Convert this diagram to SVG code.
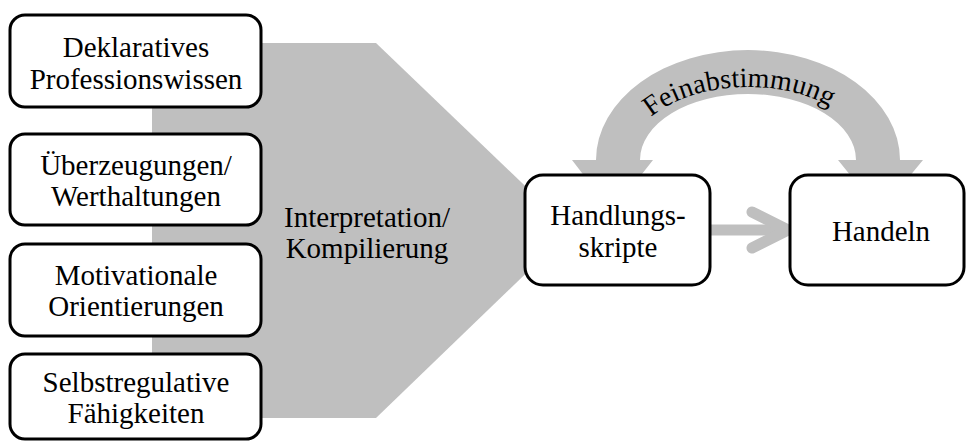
<svg xmlns="http://www.w3.org/2000/svg" width="966" height="442" viewBox="0 0 966 442">
  <defs>
    <style>
      .box { fill: #ffffff; stroke: #000000; stroke-width: 3; }
      .lbl { font-family: "Liberation Serif", "Times New Roman", serif; font-size: 29px; fill: #000000; text-anchor: middle; }
      .gray { fill: #bfbfbf; }
      .line { fill: none; stroke: #bfbfbf; stroke-width: 11; stroke-linecap: round; stroke-linejoin: round; }
    </style>
    <path id="arcText" d="M628,160 A120,73 0 0 1 868,160"/>
  </defs>
  <rect width="966" height="442" fill="#ffffff"/>

  <g id="connectors">
    <polygon id="compile-arrow" class="gray" points="152,43 376,43 571,230 376,418 152,418"/>
    <text class="lbl" x="367" y="227">Interpretation/</text>
    <text class="lbl" x="367" y="258">Kompilierung</text>

    <path id="feedback-arc" class="gray" d="M596,160 A152,110 0 0 1 900,160 L923,160 L880,212 L838,160 L856,160 A108,66 0 0 0 640,160 L653,160 L612,212 L572,160 Z"/>
    <text class="lbl" style="font-size:28px"><textPath href="#arcText" startOffset="47%">Feinabstimmung</textPath></text>

    <g id="script-to-action">
      <line class="line" x1="705" y1="230" x2="784" y2="230"/>
      <polyline class="line" points="752,212 788,230 752,248"/>
    </g>
  </g>

  <g id="node-deklarativ">
    <rect class="box" x="10" y="15" width="251" height="92" rx="15"/>
    <text class="lbl" x="136" y="57">Deklaratives</text>
    <text class="lbl" x="136" y="89">Professionswissen</text>
  </g>
  <g id="node-ueberzeugungen">
    <rect class="box" x="10" y="134" width="251" height="91" rx="15"/>
    <text class="lbl" x="136" y="175">Überzeugungen/</text>
    <text class="lbl" x="136" y="206">Werthaltungen</text>
  </g>
  <g id="node-motivation">
    <rect class="box" x="10" y="244" width="251" height="92" rx="15"/>
    <text class="lbl" x="136" y="285">Motivationale</text>
    <text class="lbl" x="136" y="316">Orientierungen</text>
  </g>
  <g id="node-selbstregulation">
    <rect class="box" x="10" y="354" width="251" height="85" rx="15"/>
    <text class="lbl" x="136" y="392">Selbstregulative</text>
    <text class="lbl" x="136" y="423">Fähigkeiten</text>
  </g>
  <g id="node-handlungsskripte">
    <rect class="box" x="525" y="175" width="185" height="110" rx="18"/>
    <text class="lbl" x="618" y="225">Handlungs-</text>
    <text class="lbl" x="618" y="257">skripte</text>
  </g>
  <g id="node-handeln">
    <rect class="box" x="790" y="175" width="174" height="110" rx="18"/>
    <text class="lbl" x="881" y="241">Handeln</text>
  </g>
</svg>
